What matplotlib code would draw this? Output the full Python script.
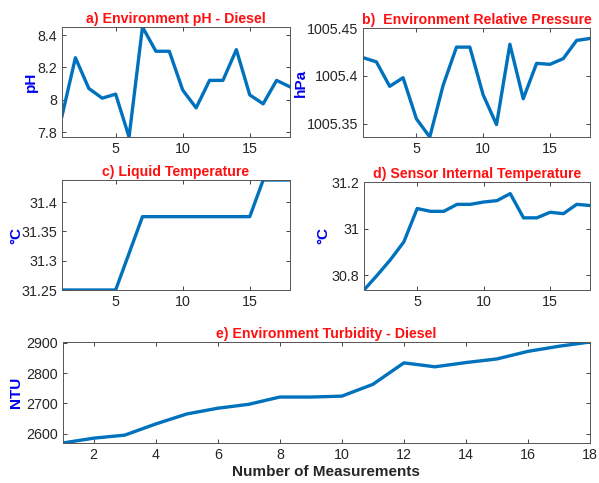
import matplotlib
matplotlib.use("Agg")
import matplotlib.pyplot as plt
import numpy as np

plt.rcParams['font.family'] = ['Liberation Sans', 'DejaVu Sans']

meas = list(range(1, 19))
ph = [7.90, 8.26, 8.07, 8.01, 8.035, 7.77, 8.45, 8.30, 8.30, 8.06, 7.95, 8.12,
      8.12, 8.31, 8.03, 7.975, 8.12, 8.08]
pressure = [1005.419, 1005.4146, 1005.389, 1005.398, 1005.355, 1005.336, 1005.390,
            1005.430, 1005.430, 1005.380, 1005.349, 1005.433, 1005.376, 1005.413,
            1005.412, 1005.418, 1005.437, 1005.439]
liquid_temp = [31.25, 31.25, 31.25, 31.25, 31.25, 31.3125, 31.375, 31.375, 31.375,
               31.375, 31.375, 31.375, 31.375, 31.375, 31.375, 31.4375, 31.4375, 31.4375]
sensor_temp = [30.736, 30.80, 30.867, 30.943, 31.086, 31.074, 31.074, 31.104, 31.104,
               31.114, 31.12, 31.15, 31.046, 31.046, 31.07, 31.064, 31.104, 31.099]
turbidity = [2569, 2585, 2595, 2632, 2665, 2684, 2697, 2721, 2721, 2724, 2763, 2834,
             2821, 2835, 2847, 2872, 2889, 2903]

titles = ["a) Environment pH - Diesel", "b)  Environment Relative Pressure",
          "c) Liquid Temperature", "d) Sensor Internal Temperature",
          "e) Environment Turbidity - Diesel"]
ylabels = ["pH", "hPa", "°C", "°C", "NTU"]
xlabel = "Number of Measurements"

W, H = 599, 483
fig = plt.figure(figsize=(W / 100, H / 100), dpi=100)

def rect(l, r, t, b):
    return [l / W, 1 - b / H, (r - l) / W, (b - t) / H]

line_color = "#0072BD"
tick_color = "#262626"

def style(ax, title, ylabel, ylab_x):
    ax.set_title(title, color="#FF1010", fontsize=10.2, fontweight="bold", pad=3)
    ax.set_ylabel(ylabel, color="#0000EE", fontsize=11, fontweight="bold")
    ax.yaxis.set_label_coords(ylab_x, 0.5)
    ax.tick_params(direction="in", top=True, right=True, labelsize=10.3,
                   colors=tick_color, length=3, width=0.6)
    for s in ax.spines.values():
        s.set_color("#555555")
        s.set_linewidth(0.7)

# a
ax = fig.add_axes(rect(62, 290, 27, 137))
ax.plot(meas, ph, color=line_color, lw=2.4)
ax.set_xlim(1, 18)
ax.set_ylim(min(ph), max(ph))
ax.set_xticks([5, 10, 15])
ax.set_yticks([7.8, 8.0, 8.2, 8.4])
ax.set_yticklabels(["7.8", "8", "8.2", "8.4"])
style(ax, titles[0], ylabels[0], -0.105)

# b
ax = fig.add_axes(rect(363, 590, 28, 137))
ax.plot(meas, pressure, color=line_color, lw=2.4)
ax.set_xlim(1, 18)
ax.set_ylim(min(pressure), 1005.45)
ax.set_xticks([5, 10, 15])
ax.set_yticks([1005.35, 1005.40, 1005.45])
ax.set_yticklabels(["1005.35", "1005.4", "1005.45"])
style(ax, titles[1], ylabels[1], -0.242)

# c
ax = fig.add_axes(rect(62, 290, 180, 290))
ax.plot(meas, liquid_temp, color=line_color, lw=2.4)
ax.set_xlim(1, 18)
ax.set_ylim(min(liquid_temp), max(liquid_temp))
ax.set_xticks([5, 10, 15])
ax.set_yticks([31.25, 31.3, 31.35, 31.4])
ax.set_yticklabels(["31.25", "31.3", "31.35", "31.4"])
style(ax, titles[2], ylabels[2], -0.171)

# d
ax = fig.add_axes(rect(364, 590, 182, 290))
ax.plot(meas, sensor_temp, color=line_color, lw=2.4)
ax.set_xlim(1, 18)
ax.set_ylim(min(sensor_temp), 31.2)
ax.set_xticks([5, 10, 15])
ax.set_yticks([30.8, 31.0, 31.2])
ax.set_yticklabels(["30.8", "31", "31.2"])
style(ax, titles[3], ylabels[3], -0.150)

# e
ax = fig.add_axes(rect(62.7, 590, 342, 443))
ax.plot(meas, turbidity, color=line_color, lw=2.4)
ax.set_xlim(1, 18)
ax.set_ylim(min(turbidity), max(turbidity))
ax.set_xticks(list(range(2, 19, 2)))
ax.set_yticks([2600, 2700, 2800, 2900])
style(ax, titles[4], ylabels[4], -0.075)
ax.set_xlabel(xlabel, color=tick_color, fontsize=11, fontweight="bold", labelpad=2)

fig.savefig("out.png", dpi=100)
